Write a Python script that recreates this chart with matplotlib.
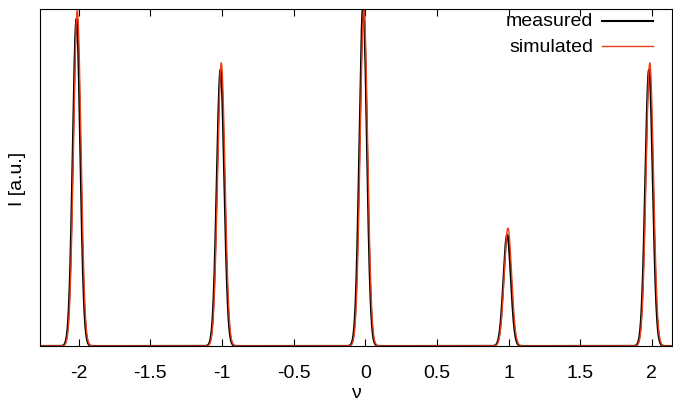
import numpy as np
import matplotlib
matplotlib.use("Agg")
import matplotlib.pyplot as plt
plt.rcParams['font.family'] = ['Liberation Sans', 'DejaVu Sans']

# peak parameters
meas_centers = [-2.015, -1.01, -0.015, 0.99, 1.98]
meas_heights = [0.97, 0.82, 1.01, 0.33, 0.82]
sim_centers = [-2.01, -1.005, -0.01, 0.995, 1.985]
sim_heights = [0.995, 0.84, 1.0, 0.35, 0.84]
width = 0.026
xticks = [-2, -1.5, -1, -0.5, 0, 0.5, 1, 1.5, 2]

x = np.linspace(-2.3, 2.2, 6000)
def curve(cs, hs):
    y = np.zeros_like(x)
    for c, h in zip(cs, hs):
        y += h * np.exp(-0.5 * ((x - c) / width) ** 2)
    return y

fig = plt.figure(figsize=(6.73, 4.02), dpi=100)
ax = fig.add_axes([40/673, 1-347/402, 632/673, 337/402])
ax.plot(x, curve(meas_centers, meas_heights), color="black", lw=1.5)
ax.plot(x, curve(sim_centers, sim_heights), color="#e8401c", lw=1.0)
ax.set_xlim(-2.27, 2.14)
ax.set_ylim(0, 1.0)
ax.set_yticks([])
ax.set_xticks(xticks)
ax.set_xticklabels([f"{t:g}" for t in xticks])
ax.tick_params(axis="x", direction="in", length=5, labelsize=14, top=True, pad=13)
ax.set_xlabel("ν", fontsize=14, labelpad=2)
ax.set_ylabel("I [a.u.]", fontsize=14, labelpad=10)
ax.text(0.875, 0.965, "measured", transform=ax.transAxes, ha="right", va="center", fontsize=14)
ax.text(0.875, 0.89, "simulated", transform=ax.transAxes, ha="right", va="center", fontsize=14)
ax.plot([0.89, 0.97], [0.965, 0.965], transform=ax.transAxes, color="black", lw=1.5)
ax.plot([0.89, 0.97], [0.89, 0.89], transform=ax.transAxes, color="#e8401c", lw=1.0)
fig.savefig("out.png", dpi=100)
